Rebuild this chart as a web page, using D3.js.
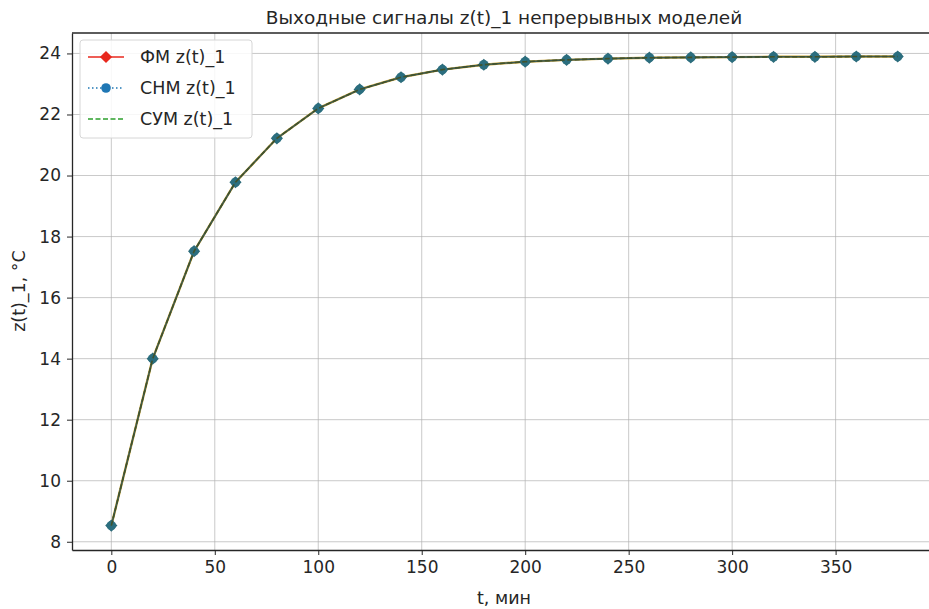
<!DOCTYPE html>
<html lang="ru">
<head>
<meta charset="utf-8">
<title>Выходные сигналы</title>
<script src="https://cdn.jsdelivr.net/npm/d3@7"></script>
<style>
  body { margin: 0; background: #fff; }
  svg text { font-family: "DejaVu Sans", sans-serif; fill: #262626; }
  .grid line { stroke: #b0b0b0; stroke-width: 0.9; opacity: 0.75; }
  .axis path, .axis line { stroke: #262626; }
  .axis text { font-size: 17px; }
</style>
</head>
<body>
<div id="chart"></div>
<script>
// time, minutes
var t = [0, 20, 40, 60, 80, 100, 120, 140, 160, 180, 200, 220, 240, 260, 280, 300, 320, 340, 360, 380];
// z(t)_1 for the three models (they coincide on the picture)
var fm  = [8.53, 14.0, 17.52, 19.78, 21.22, 22.2, 22.82, 23.22, 23.47, 23.63, 23.73, 23.79, 23.83, 23.86, 23.87, 23.88, 23.89, 23.89, 23.9, 23.9];
var cnm = [8.53, 14.0, 17.52, 19.78, 21.22, 22.2, 22.82, 23.22, 23.47, 23.63, 23.73, 23.79, 23.83, 23.86, 23.87, 23.88, 23.89, 23.89, 23.9, 23.9];
var cym = [8.53, 14.0, 17.52, 19.78, 21.22, 22.2, 22.82, 23.22, 23.47, 23.63, 23.73, 23.79, 23.83, 23.86, 23.87, 23.88, 23.89, 23.89, 23.9, 23.9];
var xTicks = [0, 50, 100, 150, 200, 250, 300, 350];
var yTicks = [8, 10, 12, 14, 16, 18, 20, 22, 24];
var seriesNames = ["ФМ z(t)_1", "СНМ z(t)_1", "СУМ z(t)_1"];

var width = 929, height = 609;
var pLeft = 72, pTop = 33, pRight = 937, pBottom = 550;

var svg = d3.select("#chart").append("svg")
    .attr("width", width)
    .attr("height", height);

var x = d3.scaleLinear().domain([-19, 399]).range([pLeft, pRight]);
var y = d3.scaleLinear().domain([7.73, 24.67]).range([pBottom, pTop]);

// grid
var grid = svg.append("g").attr("class", "grid");
grid.selectAll("line.gx").data(xTicks).enter().append("line")
    .attr("x1", d => x(d)).attr("x2", d => x(d))
    .attr("y1", pTop).attr("y2", pBottom);
grid.selectAll("line.gy").data(yTicks).enter().append("line")
    .attr("x1", pLeft).attr("x2", pRight)
    .attr("y1", d => y(d)).attr("y2", d => y(d));

// axes
svg.append("g").attr("class", "axis")
    .attr("transform", "translate(0," + pBottom + ")")
    .call(d3.axisBottom(x).tickValues(xTicks).tickSize(5).tickPadding(6).tickSizeOuter(0));
svg.append("g").attr("class", "axis")
    .attr("transform", "translate(" + pLeft + ",0)")
    .call(d3.axisLeft(y).tickValues(yTicks).tickSize(5).tickPadding(6).tickSizeOuter(0));
svg.selectAll(".axis path").attr("stroke-width", 1.3);
svg.append("line")
    .attr("x1", pLeft).attr("x2", pRight).attr("y1", pTop).attr("y2", pTop)
    .attr("stroke", "#262626").attr("stroke-width", 1.3);

var line = d3.line().x((d, i) => x(t[i])).y(d => y(d));
var diamond = d3.symbol().type(d3.symbolDiamond2).size(95);

// ФМ: red solid with diamonds
svg.append("path").datum(fm).attr("d", line)
    .attr("fill", "none").attr("stroke", "#c8a030").attr("stroke-width", 2.4);
svg.selectAll("path.fm").data(fm).enter().append("path")
    .attr("class", "fm")
    .attr("transform", (d, i) => "translate(" + x(t[i]) + "," + y(d) + ")")
    .attr("d", diamond)
    .attr("fill", "#2d6a78");

// СНМ: blue dotted with circles
svg.append("path").datum(cnm).attr("d", line)
    .attr("fill", "none").attr("stroke", "#3b5a55").attr("stroke-width", 1.6);
svg.selectAll("circle.cnm").data(cnm).enter().append("circle")
    .attr("cx", (d, i) => x(t[i])).attr("cy", d => y(d)).attr("r", 4.8)
    .attr("fill", "#2b6f80").attr("opacity", 0.9);

// СУМ: green dashed
svg.append("path").datum(cym).attr("d", line)
    .attr("fill", "none").attr("stroke", "#40522c").attr("stroke-width", 1.6)
    .attr("stroke-dasharray", "5,2.5");

// title and labels
svg.append("text").attr("x", 504).attr("y", 24).attr("text-anchor", "middle")
    .style("font-size", "18.5px").text("Выходные сигналы z(t)_1 непрерывных моделей");
svg.append("text").attr("x", 504).attr("y", 604).attr("text-anchor", "middle")
    .style("font-size", "17.5px").text("t, мин");
svg.append("text").attr("transform", "translate(25,291) rotate(-90)")
    .attr("text-anchor", "middle").style("font-size", "17.5px").text("z(t)_1, °C");

// legend
var lg = svg.append("g").attr("transform", "translate(80,40)");
lg.append("rect").attr("width", 172).attr("height", 98).attr("rx", 3)
    .attr("fill", "#fff").attr("fill-opacity", 0.85)
    .attr("stroke", "#d6d6d6");
var rows = lg.selectAll("g.row").data(seriesNames).enter().append("g")
    .attr("transform", (d, i) => "translate(0," + (17 + i * 31) + ")");
rows.append("line").attr("x1", 8).attr("x2", 44).attr("y1", 0).attr("y2", 0)
    .attr("stroke", (d, i) => ["#e8281e", "#1f77b4", "#2ca02c"][i])
    .attr("stroke-width", 1.6)
    .attr("stroke-dasharray", (d, i) => [null, "1.5,2.5", "5,2.5"][i]);
rows.filter((d, i) => i === 0).append("path")
    .attr("transform", "translate(26,0)").attr("d", diamond).attr("fill", "#e8281e");
rows.filter((d, i) => i === 1).append("circle")
    .attr("cx", 26).attr("r", 4.8).attr("fill", "#1f77b4");
rows.append("text").attr("x", 60).attr("y", 6).style("font-size", "17.5px").text(d => d);
</script>
</body>
</html>
